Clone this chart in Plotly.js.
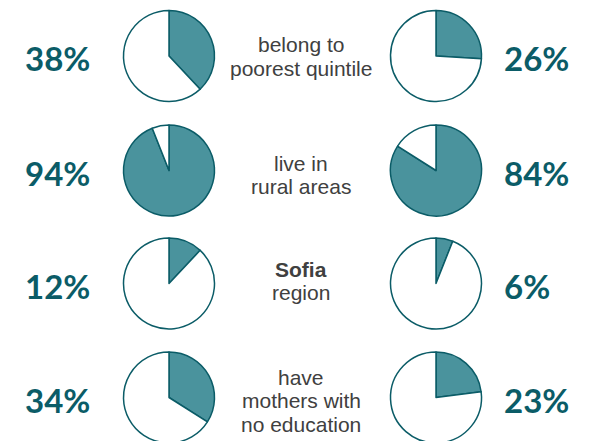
<!DOCTYPE html>
<html><head><meta charset="utf-8">
<script src="https://cdn.plot.ly/plotly-3.0.1.min.js"></script>
<style>html,body{margin:0;padding:0;overflow:hidden;background:#fff;}</style>
</head><body><div id="chart"></div>
<script>
// Data
const leftValues = [38, 94, 12, 34];
const rightValues = [26, 84, 6, 23];
const rowLabels = [["belong to", "poorest quintile"], ["live in", "rural areas"], ["<b>Sofia</b>", "region"], ["have", "mothers with", "no education"]];

// Layout geometry (pixels)
const W = 591, H = 450;
const rowY = [56, 170.5, 283.5, 397.5];
const leftX = 169, rightX = 436, R = 45.5;
const labelTop = [45, 163, 269, 377];
const LINE = 23.5;
const TEAL = '#4a939d', DARK = '#0b5c67';

function dom(cx, cy) {
  return {x: [(cx - R) / W, (cx + R) / W], y: [1 - (cy + R) / H, 1 - (cy - R) / H]};
}
function pie(v, cx, cy) {
  return {type: 'pie', values: [v, 100 - v], sort: false, direction: 'clockwise', rotation: 0,
    marker: {colors: [TEAL, '#ffffff'], line: {color: DARK, width: 1.5}},
    textinfo: 'none', hoverinfo: 'none', showlegend: false, domain: dom(cx, cy)};
}
const pctFont = {family: 'Lato, Open Sans, sans-serif', size: 33, color: DARK};
const lblFont = {family: 'Arial, Liberation Sans, sans-serif', size: 21, color: '#404040'};
const traces = [];
const ann = [];
for (let i = 0; i < 4; i++) {
  traces.push(pie(leftValues[i], leftX, rowY[i]));
  traces.push(pie(rightValues[i], rightX, rowY[i]));
  ann.push({xref: 'paper', yref: 'paper', x: 58 / W, y: 1 - (rowY[i] + 2) / H, xanchor: 'center', yanchor: 'middle',
    text: '<b>' + leftValues[i] + '%</b>', showarrow: false, font: pctFont});
  ann.push({xref: 'paper', yref: 'paper', x: 502 / W, y: 1 - (rowY[i] + 2) / H, xanchor: 'left', yanchor: 'middle',
    text: '<b>' + rightValues[i] + '%</b>', showarrow: false, font: pctFont});
  rowLabels[i].forEach((line, j) => {
    ann.push({xref: 'paper', yref: 'paper', x: 301 / W, y: 1 - (labelTop[i] + j * LINE) / H, xanchor: 'center', yanchor: 'middle',
      text: line, showarrow: false, align: 'center', font: lblFont});
  });
}
Plotly.newPlot('chart', traces, {
  width: W, height: H, margin: {l: 0, r: 0, t: 0, b: 0},
  paper_bgcolor: '#ffffff', plot_bgcolor: '#ffffff', annotations: ann
}, {displayModeBar: false, staticPlot: true});
</script></body></html>
